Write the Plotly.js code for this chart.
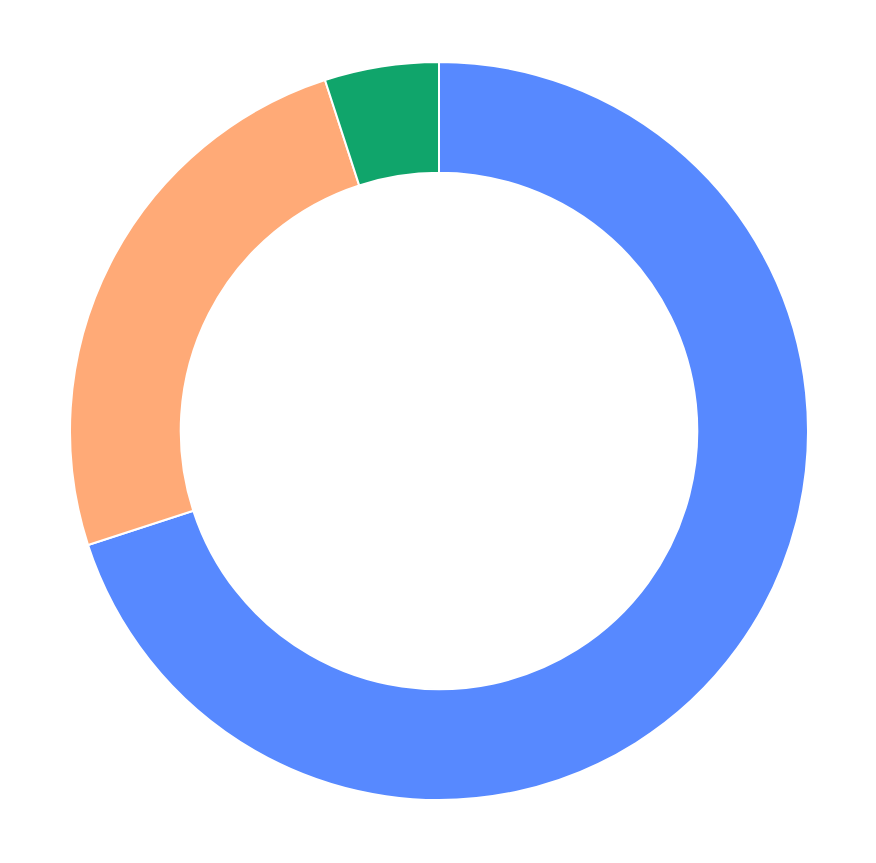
<!DOCTYPE html>
<html>
<head>
<meta charset="utf-8">
<script src="https://cdn.plot.ly/plotly-3.0.1.min.js"></script>
<style>html,body{margin:0;padding:0;background:#fff;}#chart{width:876px;height:863px;}</style>
</head>
<body>
<div id="chart"></div>
<script>
const labels = ["A", "B", "C"];
const values = [70, 25, 5];
const colors = ["#5789FF", "#FFAA77", "#10A56B"];

Plotly.newPlot("chart", [{
  type: "pie",
  labels: labels,
  values: values,
  hole: 0.70,
  sort: false,
  direction: "clockwise",
  rotation: 0,
  textinfo: "none",
  hoverinfo: "label+value+percent",
  marker: {colors: colors, line: {color: "#ffffff", width: 2}}
}], {
  width: 876,
  height: 863,
  showlegend: false,
  margin: {l: 70, r: 68, t: 62, b: 63},
  paper_bgcolor: "#ffffff",
  plot_bgcolor: "#ffffff"
}, {displayModeBar: false, staticPlot: true});
</script>
</body>
</html>
